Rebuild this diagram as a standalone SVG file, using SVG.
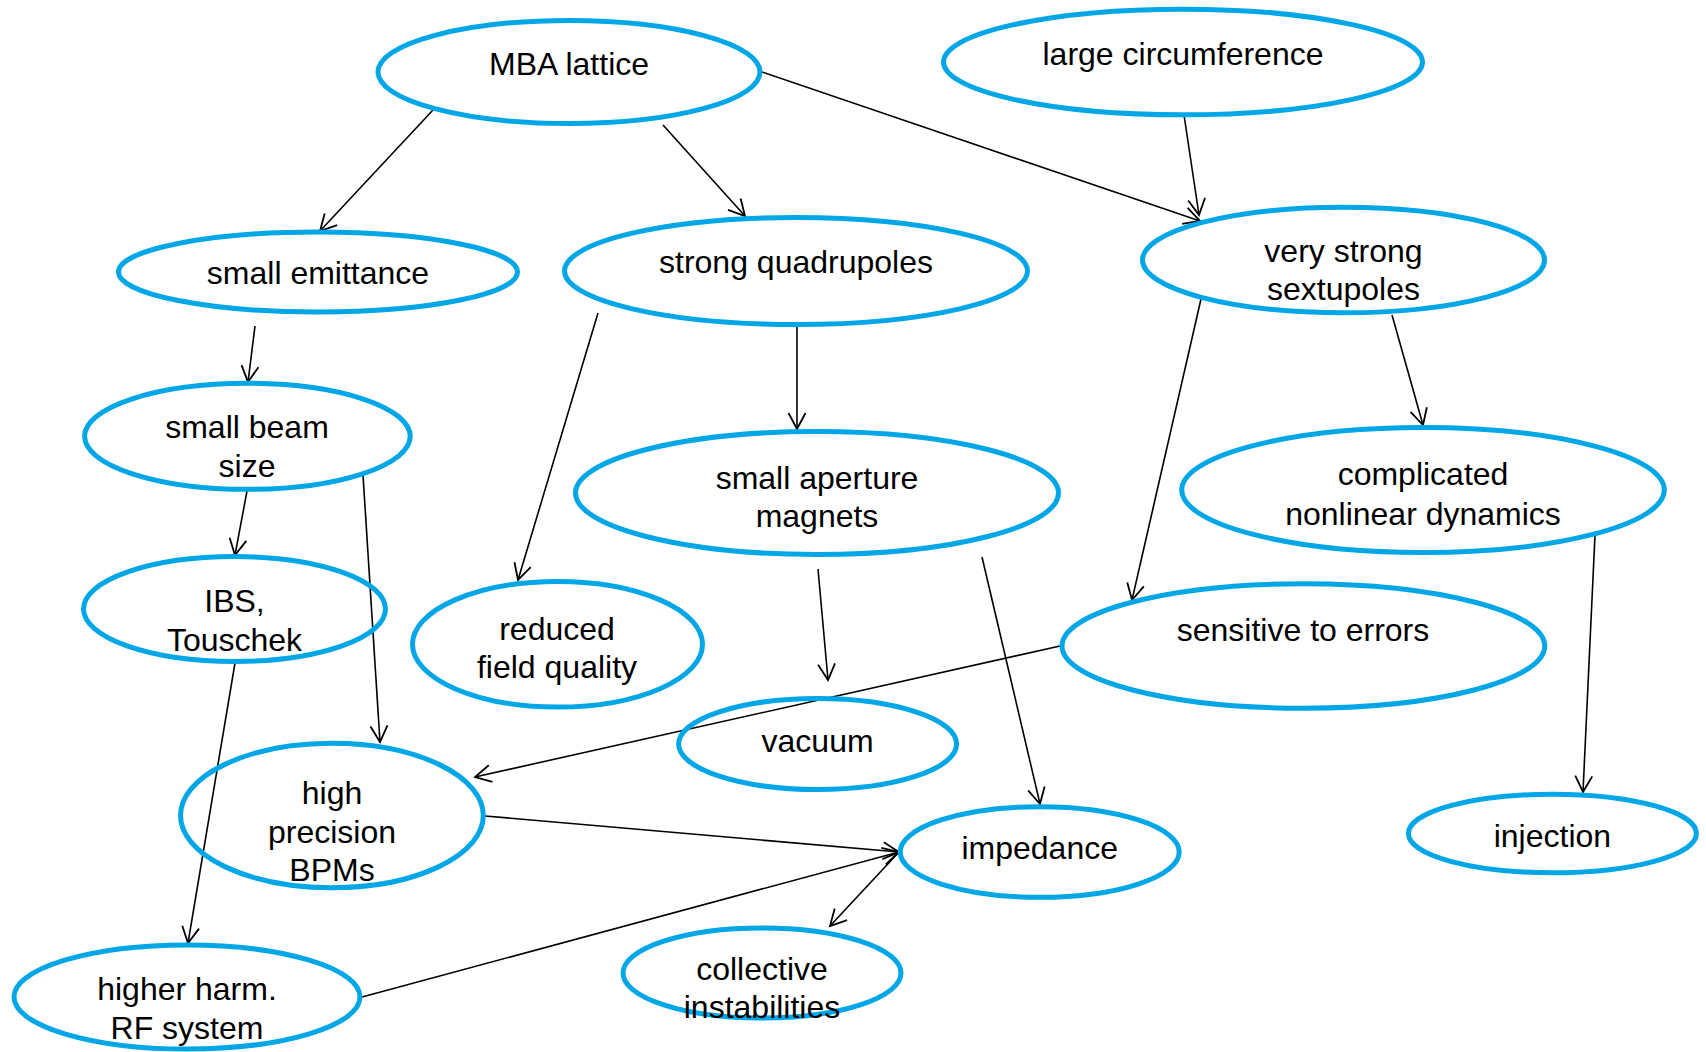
<svg xmlns="http://www.w3.org/2000/svg" width="1706" height="1052" viewBox="0 0 1706 1052">
<defs>
<style>
.n ellipse{fill:none;stroke:#00A6E6;stroke-width:5}
.n text{font-family:"Liberation Sans",Arial,sans-serif;font-size:32px;fill:#000;text-anchor:middle}
#edges line{stroke:#000;stroke-width:1.6;fill:none;marker-end:url(#arr)}
</style>
<marker id="arr" markerUnits="userSpaceOnUse" markerWidth="40" markerHeight="40" refX="0" refY="0" viewBox="-20 -20 40 40" orient="auto" overflow="visible">
<path d="M-16,-8.5 L0,0 L-16,8.5" fill="none" stroke="#000" stroke-width="1.8"/>
</marker>
</defs>
<rect width="1706" height="1052" fill="#ffffff"/>
<g id="edges">
<line x1="433" y1="110" x2="320" y2="231"/>
<line x1="663" y1="125" x2="745" y2="216"/>
<line x1="762" y1="72" x2="1200" y2="221"/>
<line x1="1184" y1="115" x2="1199" y2="215"/>
<line x1="255" y1="326" x2="248" y2="382"/>
<line x1="797" y1="326" x2="797" y2="429"/>
<line x1="598" y1="313" x2="518" y2="580"/>
<line x1="247" y1="491" x2="235" y2="555"/>
<line x1="363" y1="475" x2="380" y2="742"/>
<line x1="235" y1="663" x2="188" y2="943"/>
<line x1="1392" y1="315" x2="1423" y2="425"/>
<line x1="1201" y1="299" x2="1132" y2="600"/>
<line x1="818" y1="569" x2="828" y2="680"/>
<line x1="982" y1="557" x2="1040" y2="804"/>
<line x1="1595" y1="535" x2="1583" y2="792"/>
<line x1="1060" y1="646" x2="475" y2="777"/>
<line x1="485" y1="816" x2="899" y2="852"/>
<line x1="362" y1="997" x2="899" y2="852"/>
<line x1="899" y1="852" x2="830" y2="926"/>
</g>
<g id="mba" class="n"><ellipse cx="569" cy="72" rx="191" ry="51.5"/><text x="569" y="75">MBA lattice</text></g>
<g id="large-circumference" class="n"><ellipse cx="1183" cy="62" rx="239.5" ry="52.8"/><text x="1183" y="64.5">large circumference</text></g>
<g id="small-emittance" class="n"><ellipse cx="318" cy="272" rx="199.5" ry="40"/><text x="318" y="284">small emittance</text></g>
<g id="strong-quadrupoles" class="n"><ellipse cx="796" cy="271" rx="231.5" ry="53.5"/><text x="796" y="273">strong quadrupoles</text></g>
<g id="very-strong-sextupoles" class="n"><ellipse cx="1343.5" cy="260" rx="201" ry="52.8"/><text x="1343.5" y="262">very strong</text><text x="1343.5" y="300">sextupoles</text></g>
<g id="small-beam-size" class="n"><ellipse cx="247.4" cy="436.3" rx="162.8" ry="53"/><text x="247" y="438">small beam</text><text x="247" y="476.5">size</text></g>
<g id="small-aperture-magnets" class="n"><ellipse cx="817" cy="493" rx="241.5" ry="61.5"/><text x="817" y="489">small aperture</text><text x="817" y="527">magnets</text></g>
<g id="complicated-nonlinear-dynamics" class="n"><ellipse cx="1423" cy="490" rx="241.3" ry="62.5"/><text x="1423" y="485">complicated</text><text x="1423" y="524.5">nonlinear dynamics</text></g>
<g id="ibs-touschek" class="n"><ellipse cx="234.5" cy="609" rx="151" ry="52.4"/><text x="234.5" y="612">IBS,</text><text x="234.5" y="650.7">Touschek</text></g>
<g id="reduced-field-quality" class="n"><ellipse cx="557.5" cy="644.3" rx="145" ry="62.8"/><text x="557" y="640">reduced</text><text x="557" y="678">field quality</text></g>
<g id="sensitive-to-errors" class="n"><ellipse cx="1303.4" cy="646" rx="241.4" ry="62.2"/><text x="1303" y="641">sensitive to errors</text></g>
<g id="vacuum" class="n"><ellipse cx="817.6" cy="744" rx="139" ry="45.5"/><text x="817.6" y="752">vacuum</text></g>
<g id="high-precision-bpms" class="n"><ellipse cx="331.9" cy="815.5" rx="151.4" ry="72.3"/><text x="332" y="804">high</text><text x="332" y="843">precision</text><text x="332" y="881">BPMs</text></g>
<g id="impedance" class="n"><ellipse cx="1039.7" cy="852" rx="139.5" ry="45.3"/><text x="1039.7" y="859">impedance</text></g>
<g id="injection" class="n"><ellipse cx="1552.4" cy="833.5" rx="144" ry="39.3"/><text x="1552.4" y="846.7">injection</text></g>
<g id="collective-instabilities" class="n"><ellipse cx="762" cy="973" rx="139" ry="45"/><text x="762" y="979.5">collective</text><text x="762" y="1017.5">instabilities</text></g>
<g id="higher-harm-rf" class="n"><ellipse cx="187" cy="997" rx="173" ry="52"/><text x="187" y="1000">higher harm.</text><text x="187" y="1039">RF system</text></g>
</svg>
